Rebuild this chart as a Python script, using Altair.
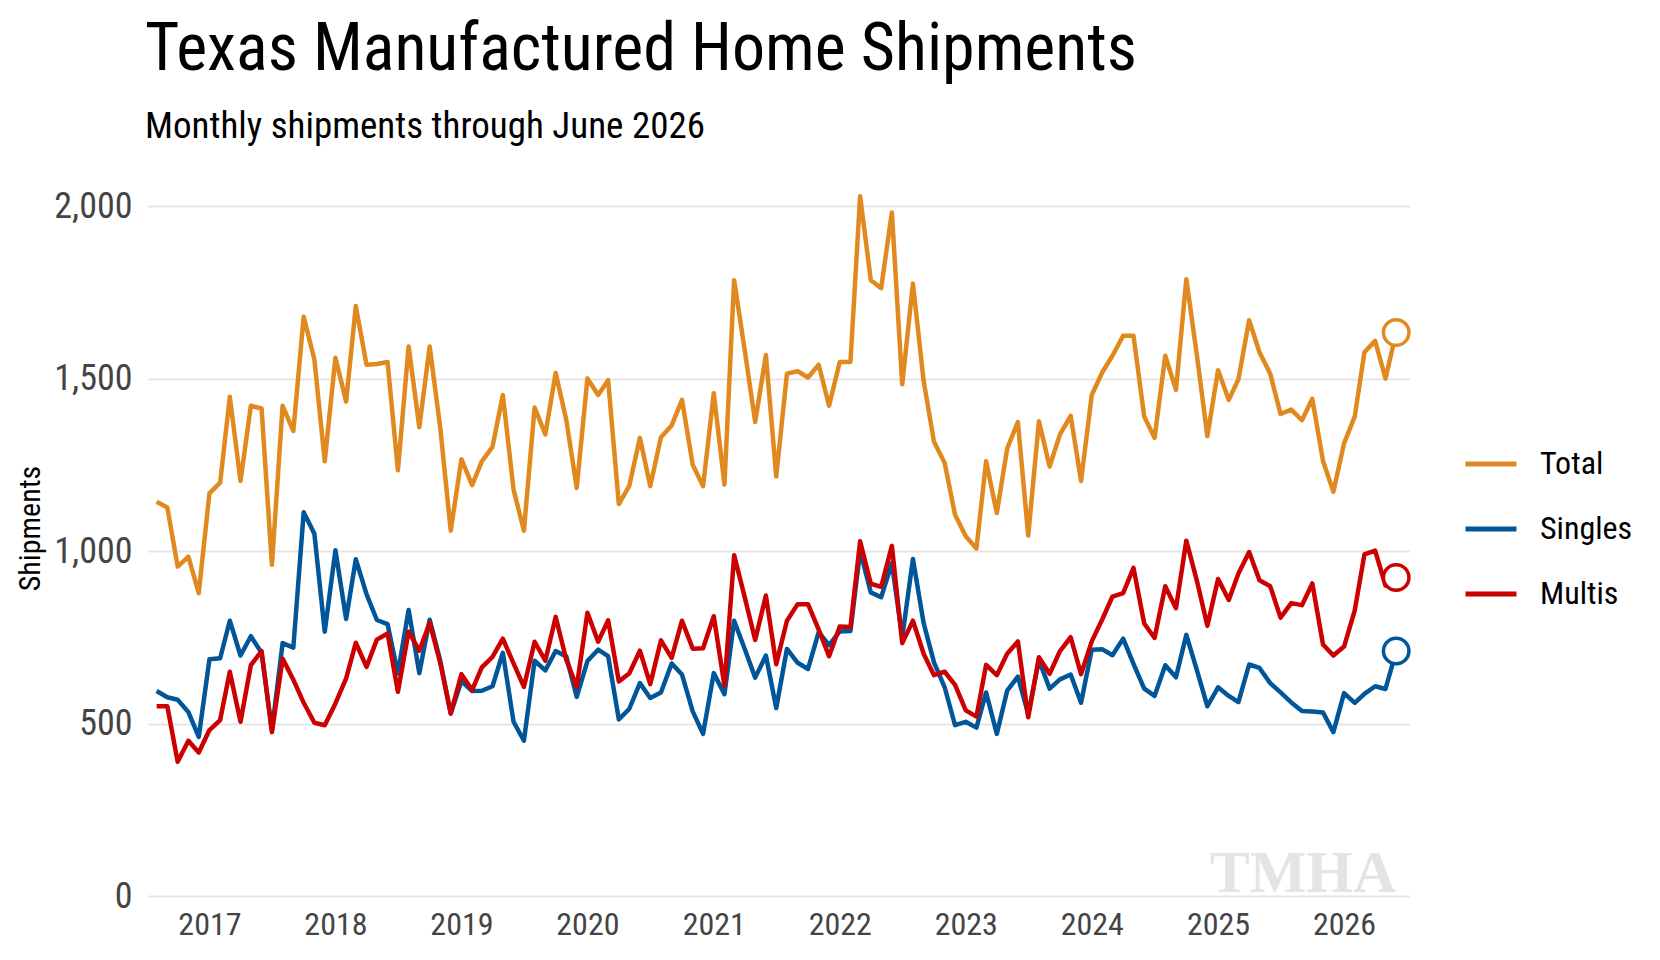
import altair as alt
import pandas as pd

# ---- data ----
series_names = ["Total", "Singles", "Multis"]
series_colors = ["#E0891F", "#005699", "#CC0000"]
first_month = "2016-08-01"

total = [1143, 1126, 955, 984, 878, 1167, 1198, 1447, 1203, 1421, 1413, 960,
         1421, 1348, 1679, 1555, 1260, 1560, 1433, 1710, 1540, 1542, 1548, 1234,
         1593, 1359, 1593, 1354, 1059, 1266, 1191, 1260, 1302, 1452, 1178, 1059,
         1416, 1338, 1516, 1379, 1183, 1500, 1452, 1495, 1136, 1188, 1328, 1188,
         1330, 1364, 1438, 1250, 1188, 1457, 1193, 1785, 1580, 1374, 1568, 1216,
         1514, 1521, 1503, 1540, 1421, 1548, 1548, 2028, 1785, 1762, 1981, 1483,
         1775, 1493, 1317, 1255, 1105, 1043, 1007, 1260, 1110, 1297, 1374, 1045,
         1376, 1245, 1338, 1392, 1203, 1452, 1519, 1566, 1624, 1624, 1390, 1328,
         1566, 1467, 1788, 1565, 1333, 1524, 1438, 1498, 1669, 1576, 1514, 1397,
         1410, 1379, 1441, 1261, 1172, 1312, 1390, 1576, 1609, 1500, 1633]

singles = [594, 576, 569, 533, 461, 686, 689, 798, 697, 753, 705, 480,
           733, 720, 1112, 1050, 766, 1002, 803, 976, 875, 800, 788, 645,
           829, 646, 801, 680, 529, 623, 594, 595, 608, 705, 505, 450,
           682, 654, 710, 694, 577, 681, 714, 695, 512, 542, 617, 574,
           590, 674, 642, 535, 470, 646, 585, 798, 715, 633, 697, 545,
           716, 676, 658, 765, 727, 767, 768, 1000, 880, 866, 965, 750,
           977, 791, 677, 605, 495, 505, 488, 590, 470, 595, 636, 527,
           684, 601, 628, 642, 560, 714, 715, 698, 746, 673, 601, 580,
           669, 634, 757, 653, 550, 605, 580, 562, 671, 661, 617, 590,
           561, 536, 535, 532, 475, 588, 560, 586, 608, 600, 710]

multis = [550, 550, 389, 450, 416, 481, 510, 650, 505, 669, 710, 475,
          688, 627, 560, 502, 495, 558, 631, 734, 664, 743, 761, 592,
          766, 711, 792, 674, 529, 643, 597, 663, 693, 746, 674, 606,
          737, 682, 809, 684, 606, 821, 737, 799, 622, 645, 711, 614,
          741, 690, 798, 717, 718, 811, 610, 988, 865, 742, 871, 672,
          798, 846, 846, 772, 695, 781, 780, 1028, 905, 896, 1015, 733,
          798, 702, 640, 650, 612, 538, 520, 670, 640, 702, 738, 518,
          692, 644, 710, 750, 643, 738, 803, 868, 878, 951, 790, 748,
          898, 834, 1030, 912, 783, 919, 858, 935, 997, 915, 898, 807,
          849, 843, 906, 729, 697, 723, 828, 990, 1001, 900, 923]

y_ticks = [0, 500, 1000, 1500, 2000]
year_ticks = list(range(2017, 2027))

# ---- build table ----
dates = pd.date_range(first_month, periods=len(total), freq="MS")
rows = []
for name, vals in zip(series_names, [total, singles, multis]):
    for d, v in zip(dates, vals):
        rows.append({"date": d, "series": name, "value": v})
df = pd.DataFrame(rows)
last_df = df[df["date"] == dates[-1]].copy()

FONT = "'Roboto Condensed', 'DejaVu Sans Condensed', 'Liberation Sans Narrow', sans-serif"

x_enc = alt.X(
    "date:T",
    title=None,
    scale=alt.Scale(domain=[alt.DateTime(year=2016, month=7, date=7),
                            alt.DateTime(year=2026, month=7, date=11)]),
    axis=alt.Axis(values=[alt.DateTime(year=y, month=1, date=1) for y in year_ticks],
                  format="%Y", grid=False, domain=False, ticks=False,
                  labelFont=FONT, labelFontSize=32, labelColor="#444444",
                  labelPadding=13, labelFlush=False),
)
y_enc = alt.Y(
    "value:Q",
    title="Shipments",
    scale=alt.Scale(domain=[0, 2000], nice=False),
    axis=alt.Axis(values=y_ticks, format=",.0f", grid=True, gridColor="#e6e6e6",
                  gridWidth=2, domain=False, ticks=False,
                  labelFont=FONT, labelFontSize=36, labelColor="#444444",
                  labelPadding=16,
                  titleFont=FONT, titleFontSize=30, titleFontWeight="normal",
                  titleColor="black", titleAngle=270, titleX=-118, titleY=322,
                  titleAlign="center", titleBaseline="middle"),
)

color_scale = alt.Scale(domain=series_names, range=series_colors)

logo = alt.Chart(pd.DataFrame({"t": ["TMHA"]})).mark_text(
    font="Liberation Serif", fontWeight="bold", fontSize=60, color="#e4e4e4",
    align="center", baseline="alphabetic"
).encode(text="t:N", x=alt.value(1155), y=alt.value(686))

lines = alt.Chart(df).mark_line(strokeWidth=4.5, strokeJoin="round").encode(
    x=x_enc,
    y=y_enc,
    color=alt.Color("series:N", scale=color_scale, sort=series_names,
                    legend=alt.Legend(title=None, orient="none",
                                      legendX=1315, legendY=230,
                                      symbolType="stroke", symbolSize=2601,
                                      symbolStrokeWidth=5,
                                      labelFont=FONT, labelFontSize=32,
                                      labelColor="black", labelOffset=21,
                                      rowPadding=21, padding=0)),
)

points = alt.Chart(last_df).mark_point(
    shape="circle", filled=True, fill="white", size=650, strokeWidth=3.5, opacity=1
).encode(
    x=x_enc,
    y=y_enc,
    stroke=alt.Stroke("series:N", scale=color_scale, legend=None),
)

chart = alt.layer(logo, lines, points).properties(
    width=1262,
    height=690,
    autosize=alt.AutoSizeParams(type="none"),
    padding={"left": 140, "top": 198, "right": 230, "bottom": 50},
    background="white",
    title=alt.TitleParams(
        text="Texas Manufactured Home Shipments",
        subtitle="Monthly shipments through June 2026",
        anchor="start", frame="group", dx=-3,
        font=FONT, fontSize=66, fontWeight="normal", color="black",
        subtitleFont=FONT, subtitleFontSize=37, subtitleColor="black",
        subtitlePadding=25, offset=42,
    ),
).configure_view(stroke="transparent", strokeWidth=0)

chart.save("out.html", embed_options={"renderer": "svg", "actions": False})
